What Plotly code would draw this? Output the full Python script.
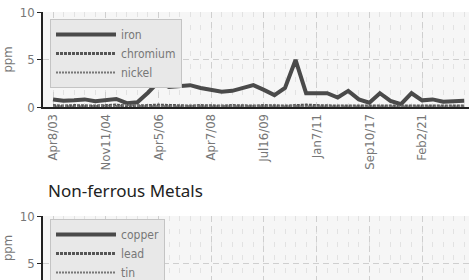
import plotly.graph_objects as go

dates = ["Apr8/03", "Jul2/03", "Oct1/03", "Jan5/04", "May3/04",
         "Nov11/04", "Feb7/05", "May9/05", "Aug8/05", "Dec1/05",
         "Apr5/06", "Aug2/06", "Nov6/06", "Mar1/07", "Jul3/07",
         "Apr7/08", "Jul9/08", "Oct6/08", "Jan8/09", "Apr2/09",
         "Jul16/09", "Sep9/09", "Dec2/09", "Mar3/10", "Aug4/10",
         "Jan7/11", "Jun6/11", "Jan9/12", "Aug1/13", "Mar4/15",
         "Sep10/17", "Feb6/18", "Aug7/18", "Mar5/19", "Sep3/19",
         "Feb2/21", "Jul6/21", "Jan4/22", "Jun1/22", "Nov2/22"]

iron = [0.8, 0.65, 0.7, 0.8, 0.6, 0.7, 0.85, 0.4, 0.5, 1.5,
        2.65, 2.1, 2.2, 2.3, 2.0, 1.8, 1.6, 1.7, 2.0, 2.3,
        1.8, 1.25, 2.0, 4.95, 1.45, 1.45, 1.45, 1.0, 1.7, 0.8,
        0.45, 1.45, 0.65, 0.3, 1.45, 0.7, 0.8, 0.55, 0.6, 0.65]
chromium = [0.15, 0.1, 0.15, 0.1, 0.1, 0.15, 0.2, 0.1, 0.1, 0.15,
            0.2, 0.15, 0.1, 0.1, 0.15, 0.1, 0.1, 0.15, 0.1, 0.1,
            0.15, 0.1, 0.1, 0.15, 0.2, 0.15, 0.1, 0.1, 0.1, 0.1,
            0.1, 0.15, 0.1, 0.1, 0.1, 0.15, 0.1, 0.1, 0.15, 0.1]
nickel = [0.05, 0.1, 0.05, 0.05, 0.1, 0.15, 0.1, 0.2, 0.15, 0.05,
          0.1, 0.05, 0.05, 0.1, 0.05, 0.05, 0.1, 0.05, 0.05, 0.1,
          0.05, 0.05, 0.05, 0.1, 0.05, 0.05, 0.05, 0.05, 0.05, 0.05,
          0.05, 0.05, 0.05, 0.05, 0.05, 0.05, 0.1, 0.05, 0.05, 0.05]
copper = [0.3, 0.4, 0.3, 0.3, 0.4, 0.3, 0.5, 0.4, 0.3, 0.4,
          0.5, 0.4, 0.3, 0.3, 0.4, 0.3, 0.3, 0.4, 0.3, 0.3,
          0.4, 0.3, 0.3, 0.5, 0.4, 0.3, 0.3, 0.3, 0.4, 0.3,
          0.3, 0.4, 0.3, 0.3, 0.3, 0.4, 0.3, 0.3, 0.4, 0.3]
lead = [0.1] * 40
tin = [0.05] * 40

tick_idx = [0, 5, 10, 15, 20, 25, 30, 35]
x = list(range(len(dates)))

W, H = 469, 280
FONT_N = "DejaVu Sans Condensed, Liberation Sans Narrow, Roboto, sans-serif"
GRAY = "#777"

fig = go.Figure()
series_top = [("iron", iron, dict(color="#4a4a4a", width=4, dash="solid")),
              ("chromium", chromium, dict(color="#555", width=3, dash="3px,1px")),
              ("nickel", nickel, dict(color="#777", width=2, dash="2px,1px"))]
for name, vals, ln in series_top:
    fig.add_trace(go.Scatter(x=x, y=vals, name=name, mode="lines", line=ln,
                             xaxis="x", yaxis="y", legend="legend"))
series_bot = [("copper", copper, dict(color="#4a4a4a", width=4, dash="solid")),
              ("lead", lead, dict(color="#555", width=3, dash="3px,1px")),
              ("tin", tin, dict(color="#777", width=2, dash="2px,1px"))]
for name, vals, ln in series_bot:
    fig.add_trace(go.Scatter(x=x, y=vals, name=name, mode="lines", line=ln,
                             xaxis="x2", yaxis="y2", legend="legend2"))

xl = 43 / W
xrange_ = [-0.95, 39.45]

def xaxis(show_labels, anchor, show_line):
    return dict(domain=[xl, 1], range=xrange_, anchor=anchor, automargin=False,
                tickmode="array", tickvals=tick_idx,
                ticktext=[dates[i] for i in tick_idx],
                showticklabels=show_labels, tickangle=-90,
                tickfont=dict(family=FONT_N, size=13, color=GRAY),
                showgrid=True, gridcolor="#cfcfcf", griddash="6px,4px", gridwidth=1,
                showline=show_line, linecolor="#222", linewidth=1.5,
                ticks="", zeroline=False,
                minor=dict(dtick=1, tick0=0, showgrid=True, gridcolor="#e2e2e2",
                           griddash="5px,8px", gridwidth=1, ticks=""))

def yaxis(dom, rng, anchor):
    return dict(domain=dom, range=rng, anchor=anchor, automargin=False,
                tickvals=[0, 5, 10], ticks="outside", ticklen=4, tickcolor="#222",
                tickfont=dict(family=FONT_N, size=13, color=GRAY),
                showgrid=True, gridcolor="#cfcfcf", griddash="6px,4px", gridwidth=1,
                showline=True, linecolor="#222", linewidth=1.5, zeroline=False,
                title=dict(text="ppm", font=dict(family=FONT_N, size=13, color=GRAY), standoff=8))

top_dom = [1 - 107 / H, 1 - 12 / H]
bot_top = 1 - 216 / H
px_per = (107 - 12) / 10.0
bot_min = 10 - (H - 216) / px_per

legend_style = dict(bgcolor="#e8e8e8", bordercolor="#c4c4c4", borderwidth=1,
                    font=dict(family=FONT_N, size=12, color=GRAY),
                    itemwidth=60, xanchor="left", yanchor="top",
                    tracegroupgap=0, itemclick=False)

fig.update_layout(
    width=W, height=H,
    margin=dict(l=0, r=0, t=0, b=0, pad=0, autoexpand=False),
    paper_bgcolor="white", plot_bgcolor="#f6f6f6",
    showlegend=True,
    xaxis=xaxis(True, "y", True),
    yaxis=yaxis(top_dom, [0, 10], "x"),
    xaxis2=xaxis(False, "y2", False),
    yaxis2=yaxis([0, bot_top], [bot_min, 10], "x2"),
    legend=dict(x=50 / W, y=1 - 19 / H, **legend_style),
    legend2=dict(x=50 / W, y=1 - 219 / H, **legend_style),
    annotations=[dict(text="Non-ferrous Metals", x=46 / W, y=1 - 204 / H,
                      xref="paper", yref="paper", xanchor="left", yanchor="bottom",
                      showarrow=False,
                      font=dict(family="Noto Sans", size=17, color="#222"))],
)

fig.write_html("out.html", config={"displayModeBar": False},
               post_script="document.body.style.margin='0';document.body.style.overflow='hidden';")
